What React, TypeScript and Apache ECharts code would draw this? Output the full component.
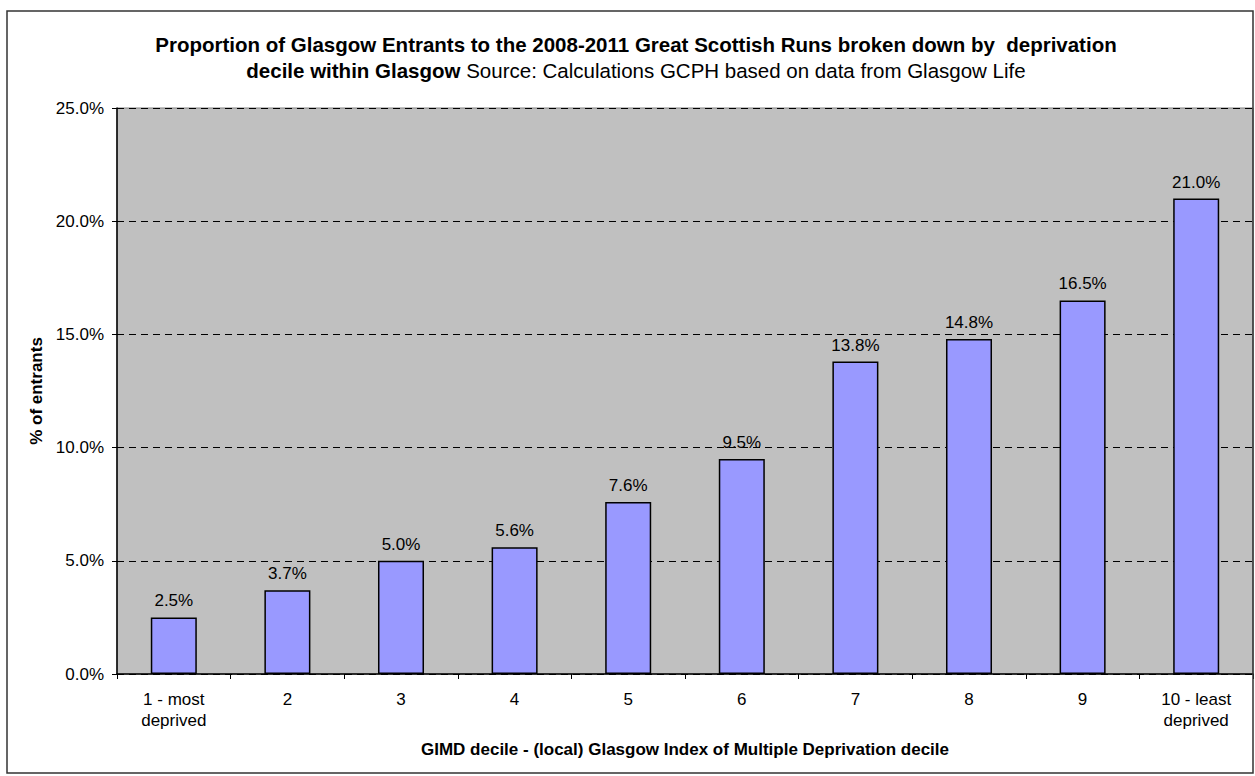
import React, { useEffect, useRef } from "react";
import * as echarts from "echarts";

const categories = ["1 - most\ndeprived", "2", "3", "4", "5", "6", "7", "8", "9", "10 - least\ndeprived"];
const values = [2.5, 3.7, 5.0, 5.6, 7.6, 9.5, 13.8, 14.8, 16.5, 21.0];
const yTicks = [0, 5, 10, 15, 20, 25];
const titleLine1 = "Proportion of Glasgow Entrants to the 2008-2011 Great Scottish Runs broken down by  deprivation";
const titleBold2 = "decile within Glasgow";
const titleNormal2 = "Source: Calculations GCPH based on data from Glasgow Life";

const FONT = "Liberation Sans, Arial, sans-serif";

export default function App() {
  const ref = useRef<HTMLDivElement>(null);
  useEffect(() => {
    document.body.style.margin = "0";
    const chart = echarts.init(ref.current!, null, { renderer: "svg" });
    chart.setOption({
      animation: false,
      backgroundColor: "#ffffff",
      textStyle: { fontFamily: FONT },
      graphic: [
        {
          type: "rect",
          shape: { x: 7, y: 11, width: 1246, height: 762 },
          style: { fill: "none", stroke: "#333", lineWidth: 1.5 },
          silent: true,
          z: 100,
        },
        {
          type: "text",
          x: 636,
          y: 44,
          style: {
            text: titleLine1,
            align: "center",
            verticalAlign: "middle",
            fontSize: 20.5,
            fontWeight: "bold",
            fontFamily: FONT,
            fill: "#000",
          },
        },
        {
          type: "text",
          x: 636,
          y: 70,
          style: {
            text: "{b|" + titleBold2 + "} {n|" + titleNormal2 + "}",
            align: "center",
            verticalAlign: "middle",
            fontSize: 20.5,
            fontFamily: FONT,
            fill: "#000",
            rich: {
              b: { fontSize: 20.5, fontWeight: "bold", fontFamily: FONT, fill: "#000" },
              n: { fontSize: 20.5, fontWeight: "normal", fontFamily: FONT, fill: "#000" },
            },
          },
        },
      ],
      grid: {
        left: 117,
        right: 2,
        top: 108,
        bottom: 102,
        show: true,
        backgroundColor: "#C0C0C0",
        borderColor: "#808080",
        borderWidth: 1,
      },
      xAxis: {
        type: "category",
        data: categories,
        name: "GIMD decile - (local) Glasgow Index of Multiple Deprivation decile",
        nameLocation: "middle",
        nameGap: 67,
        nameTextStyle: { fontSize: 17, fontWeight: "bold", color: "#000" },
        axisLine: { lineStyle: { color: "#000", width: 1.5 } },
        axisTick: { show: true, alignWithLabel: false, length: 5, lineStyle: { color: "#000" } },
        axisLabel: { fontSize: 17, color: "#000", margin: 15, lineHeight: 21 },
      },
      yAxis: {
        type: "value",
        min: 0,
        max: 25,
        interval: 5,
        name: "% of entrants",
        nameLocation: "middle",
        nameGap: 71,
        nameRotate: 90,
        nameTextStyle: { fontSize: 17, fontWeight: "bold", color: "#000" },
        axisLine: { show: true, lineStyle: { color: "#000", width: 1.5 } },
        axisTick: { show: true, length: 5, lineStyle: { color: "#000" } },
        axisLabel: {
          fontSize: 17,
          color: "#000",
          margin: 13,
          formatter: (v: number) => (yTicks.includes(v) ? v.toFixed(1) + "%" : ""),
        },
        splitLine: { show: true, lineStyle: { color: "#000", type: [7, 5], width: 1 } },
      },
      series: [
        {
          type: "bar",
          data: values,
          barWidth: "40.5%",
          itemStyle: { color: "#9999FF", borderColor: "#000", borderWidth: 1.5 },
          label: {
            show: true,
            position: "top",
            distance: 8,
            fontSize: 17,
            color: "#000",
            formatter: (p: any) => p.value.toFixed(1) + "%",
          },
        },
      ],
    });
    return () => chart.dispose();
  }, []);
  return <div ref={ref} style={{ width: 1255, height: 776 }} />;
}
